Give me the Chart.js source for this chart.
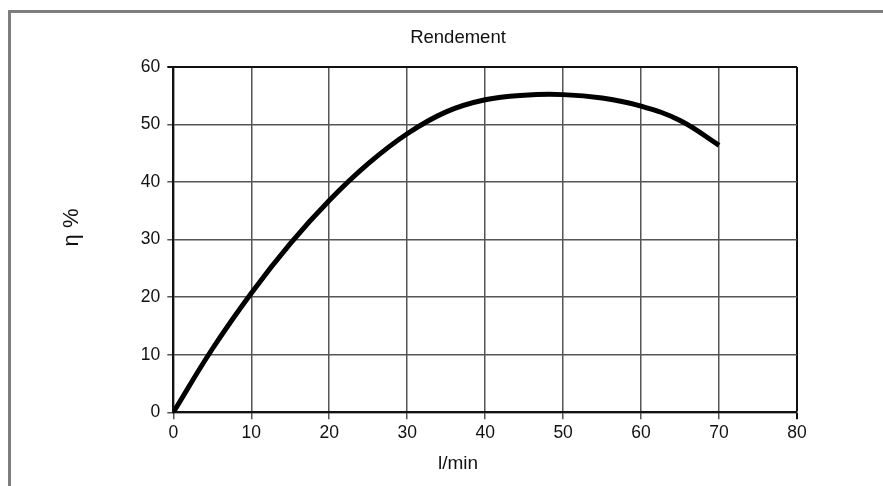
<!DOCTYPE html>
<html lang="fr">
<head>
    <meta charset="UTF-8">
    <title>Rendement</title>
    <script src="https://cdn.jsdelivr.net/npm/chart.js"></script>
    <style>
        html, body { margin: 0; padding: 0; background: #fff; overflow: hidden; }
        /* grey frame round the figure, runs off the right and bottom edges */
        .frame {
            position: absolute; left: 8px; top: 10px;
            width: 900px; height: 500px;
            border: 3px solid #7d7d7d;
        }
        .wrap { position: absolute; left: 0; top: 0; width: 883px; height: 486px; }
    </style>
</head>
<body>
    <div class="frame"></div>
    <div class="wrap"><canvas id="chart"></canvas></div>

    <script>
        // flow in l/min and efficiency in %
        const flow = [0, 5, 10, 15, 20, 25, 30, 35, 40, 45, 50, 55, 60, 65, 70];
        const efficiency = [0, 11.0, 20.7, 29.3, 36.8, 43.2, 48.4, 52.2, 54.3, 55.1, 55.2, 54.6, 53.2, 50.7, 46.4];
        const xTicks = [0, 10, 20, 30, 40, 50, 60, 70, 80];
        const yTicks = [0, 10, 20, 30, 40, 50, 60];

        const points = flow.map((x, i) => ({ x: x, y: efficiency[i] }));
        const font = 'Liberation Sans, Arial, sans-serif';

        new Chart(document.getElementById('chart'), {
            type: 'line',
            data: {
                datasets: [{
                    data: points,
                    borderColor: '#000',
                    borderWidth: 5,
                    pointRadius: 0,
                    tension: 0.4,
                    borderCapStyle: 'butt'
                }]
            },
            options: {
                responsive: true,
                maintainAspectRatio: false,
                animation: false,
                layout: { padding: { left: 58, right: 25, top: 26.4, bottom: 10.6 } },
                plugins: {
                    legend: { display: false },
                    tooltip: { enabled: false },
                    title: {
                        display: true,
                        text: 'Rendement',
                        color: '#111',
                        font: { family: font, size: 18.5, weight: 'normal' },
                        padding: { top: 0, bottom: 18.4 }
                    },
                    // x axis name, set under the axis and centred like the title
                    subtitle: {
                        display: true,
                        position: 'bottom',
                        text: 'l/min',
                        color: '#111',
                        font: { family: font, size: 19, weight: 'normal' },
                        padding: { top: 5.3, bottom: 0 }
                    }
                },
                scales: {
                    x: {
                        type: 'linear',
                        min: 0,
                        max: 80,
                        afterBuildTicks: (s) => { s.ticks = xTicks.map(v => ({ value: v })); },
                        afterFit: (s) => { s.height = 35; },
                        ticks: {
                            color: '#111',
                            font: { family: font, size: 17.5 },
                            padding: 3,
                            maxRotation: 0
                        },
                        grid: {
                            color: (c) => c.tick && c.tick.value === 80 ? '#111' : '#555',
                            lineWidth: (c) => c.tick && c.tick.value === 80 ? 2 : 1.5,
                            tickLength: 7
                        },
                        border: { color: '#111', width: 2 }
                    },
                    y: {
                        min: 0,
                        max: 60,
                        afterBuildTicks: (s) => { s.ticks = yTicks.map(v => ({ value: v })); },
                        afterFit: (s) => { s.width = 115.3; },
                        ticks: {
                            color: '#111',
                            font: { family: font, size: 17.5 },
                            padding: 7
                        },
                        grid: {
                            color: (c) => c.tick && c.tick.value === 60 ? '#111' : '#555',
                            lineWidth: (c) => c.tick && c.tick.value === 60 ? 2 : 1.5,
                            tickLength: 6
                        },
                        border: { color: '#111', width: 2 },
                        title: {
                            display: true,
                            text: '    η %',
                            color: '#111',
                            font: { family: font, size: 22 },
                            padding: { top: 1, bottom: 0 }
                        }
                    },
                    // empty spacer on the right so the plot ends where the original does
                    spacer: {
                        type: 'linear',
                        position: 'right',
                        min: 0,
                        max: 1,
                        afterFit: (s) => { s.width = 61; },
                        ticks: { display: false },
                        grid: { display: false, drawTicks: false },
                        border: { display: false }
                    }
                }
            }
        });
    </script>
</body>
</html>
